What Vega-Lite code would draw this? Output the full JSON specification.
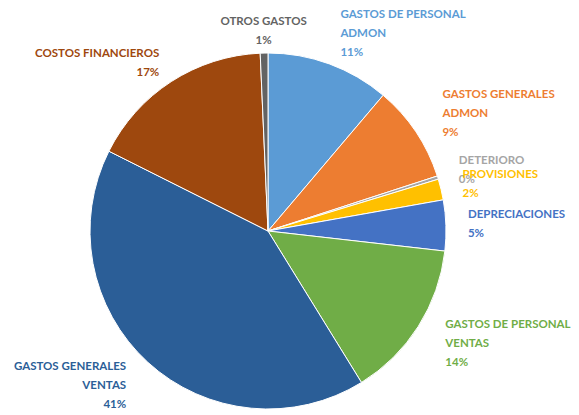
{
  "$schema": "https://vega.github.io/schema/vega-lite/v6.json",
  "autosize": {"type": "none"},
  "width": 536,
  "height": 368,
  "padding": {"left": 0, "top": 47, "right": 43, "bottom": 0},
  "background": "white",
  "data": {
    "values": [
      {"orden": 1, "concepto": "GASTOS DE PERSONAL ADMON", "valor": 11.2, "etiqueta": ["GASTOS DE PERSONAL", "ADMON", "11%"]},
      {"orden": 2, "concepto": "GASTOS GENERALES ADMON", "valor": 8.8, "etiqueta": ["GASTOS GENERALES", "ADMON", "9%"]},
      {"orden": 3, "concepto": "DETERIORO", "valor": 0.3, "etiqueta": ["DETERIORO", "0%"]},
      {"orden": 4, "concepto": "PROVISIONES", "valor": 1.9, "etiqueta": ["PROVISIONES", "2%"]},
      {"orden": 5, "concepto": "DEPRECIACIONES", "valor": 4.6, "etiqueta": ["DEPRECIACIONES", "5%"]},
      {"orden": 6, "concepto": "GASTOS DE PERSONAL VENTAS", "valor": 14.4, "etiqueta": ["GASTOS DE PERSONAL", "VENTAS", "14%"]},
      {"orden": 7, "concepto": "GASTOS GENERALES VENTAS", "valor": 41.2, "etiqueta": ["GASTOS GENERALES", "VENTAS", "41%"]},
      {"orden": 8, "concepto": "COSTOS FINANCIEROS", "valor": 16.9, "etiqueta": ["COSTOS FINANCIEROS", "17%"]},
      {"orden": 9, "concepto": "OTROS GASTOS", "valor": 0.7, "etiqueta": ["OTROS GASTOS", "1%"]}
    ]
  },
  "encoding": {
    "theta": {"field": "valor", "type": "quantitative", "stack": true},
    "order": {"field": "orden", "type": "quantitative"},
    "color": {
      "field": "concepto",
      "type": "nominal",
      "legend": null,
      "scale": {
        "domain": ["GASTOS DE PERSONAL ADMON", "GASTOS GENERALES ADMON", "DETERIORO", "PROVISIONES", "DEPRECIACIONES", "GASTOS DE PERSONAL VENTAS", "GASTOS GENERALES VENTAS", "COSTOS FINANCIEROS", "OTROS GASTOS"],
        "range": ["#5B9BD5", "#ED7D31", "#A5A5A5", "#FFC000", "#4472C4", "#70AD47", "#2B5E97", "#9E480E", "#636363"]
      }
    }
  },
  "layer": [
    {
      "mark": {"type": "arc", "outerRadius": 178, "stroke": "white", "strokeWidth": 1}
    },
    {
      "mark": {"type": "text", "radius": 210, "dy": -19, "align": "left", "baseline": "middle", "font": "Lato", "fontWeight": "bold", "fontSize": 11.5, "lineHeight": 19},
      "encoding": {
        "text": {"condition": {"test": "datum.orden == 1 || datum.orden == 2 || datum.orden == 6", "field": "etiqueta"}, "value": ""}
      }
    },
    {
      "mark": {"type": "text", "radius": 200, "dy": -9.5, "align": "left", "baseline": "middle", "font": "Lato", "fontWeight": "bold", "fontSize": 11.5, "lineHeight": 19},
      "encoding": {
        "text": {"condition": {"test": "datum.orden >= 3 && datum.orden <= 5", "field": "etiqueta"}, "value": ""}
      }
    },
    {
      "mark": {"type": "text", "radius": 210, "dy": -19, "align": "right", "baseline": "middle", "font": "Lato", "fontWeight": "bold", "fontSize": 11.5, "lineHeight": 19},
      "encoding": {
        "text": {"condition": {"test": "datum.orden == 7", "field": "etiqueta"}, "value": ""}
      }
    },
    {
      "mark": {"type": "text", "radius": 200, "dy": -9.5, "align": "right", "baseline": "middle", "font": "Lato", "fontWeight": "bold", "fontSize": 11.5, "lineHeight": 19},
      "encoding": {
        "text": {"condition": {"test": "datum.orden == 8", "field": "etiqueta"}, "value": ""}
      }
    },
    {
      "mark": {"type": "text", "radius": 200, "dy": -9.5, "align": "center", "baseline": "middle", "font": "Lato", "fontWeight": "bold", "fontSize": 11.5, "lineHeight": 19},
      "encoding": {
        "text": {"condition": {"test": "datum.orden == 9", "field": "etiqueta"}, "value": ""}
      }
    }
  ]
}
